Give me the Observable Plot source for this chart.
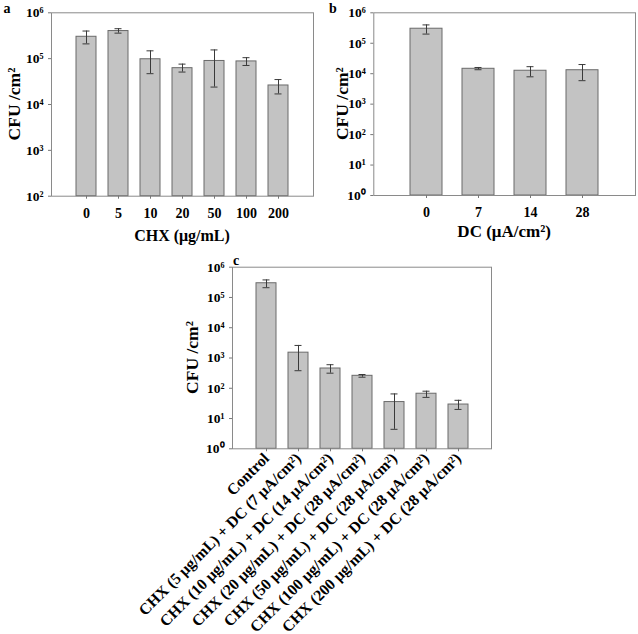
<!DOCTYPE html>
<html><head><meta charset="utf-8">
<script src="https://cdn.jsdelivr.net/npm/d3@7"></script>
<script src="https://cdn.jsdelivr.net/npm/@observablehq/plot@0.6"></script>
<style>
body{margin:0;background:#fff;}
#wrap{position:relative;width:638px;height:634px;font-family:"Liberation Serif","Times New Roman",serif;}
#wrap svg{position:absolute;overflow:visible;}
</style></head><body><div id="wrap"></div>
<script>
// Panel a: CHX
const chxDoses = ["0","5","10","20","50","100","200"];
const chxCFU  = [3.0e5, 4.0e5, 9.7e4, 6.2e4, 8.9e4, 8.7e4, 2.6e4];
const chxLow  = [2.1e5, 3.6e5, 4.7e4, 5.1e4, 2.4e4, 7.1e4, 1.7e4];
const chxHigh = [4.0e5, 4.5e5, 1.48e5, 7.6e4, 1.55e5, 1.05e5, 3.5e4];
// Panel b: DC
const dcDoses = ["0","7","14","28"];
const dcCFU  = [3.0e5, 1.45e4, 1.25e4, 1.3e4];
const dcLow  = [2.0e5, 1.35e4, 7.9e3, 5.9e3];
const dcHigh = [4.0e5, 1.6e4, 1.7e4, 2.0e4];
// Panel c: combination
const comboLabels = [
  "Control",
  "CHX (5 μg/mL) + DC (7 μA/cm²)",
  "CHX (10 μg/mL) + DC (14 μA/cm²)",
  "CHX (20 μg/mL) + DC (28 μA/cm²)",
  "CHX (50 μg/mL) + DC (28 μA/cm²)",
  "CHX (100 μg/mL) + DC (28 μA/cm²)",
  "CHX (200 μg/mL) + DC (28 μA/cm²)"
];
const comboCFU  = [2.95e5, 1.5e3, 450, 258, 35, 66, 29];
const comboLow  = [2.1e5, 380, 315, 232, 4.4, 50, 20];
const comboHigh = [3.8e5, 2.6e3, 600, 285, 65, 80, 40];
// tick values
const yTicksA = [1e2, 1e3, 1e4, 1e5, 1e6];
const yTicksBC = [1e0, 1e1, 1e2, 1e3, 1e4, 1e5, 1e6];
const yTitle = "CFU /cm²";

const SUP = {"0":"⁰","1":"¹","2":"²","3":"³","4":"⁴","5":"⁵","6":"⁶","7":"⁷","8":"⁸","9":"⁹"};
const fmtPow = d => "10" + String(Math.round(Math.log10(d))).split("").map(c => SUP[c]).join("");

const wrap = document.getElementById("wrap");

function panel(o) {
  const rows = o.cats.map((c, i) => ({cat: c, v: o.vals[i], lo: o.lo[i], hi: o.hi[i]}));
  const base = o.ticks[0];
  const svg = Plot.plot({
    width: o.width, height: o.height,
    marginLeft: o.m[0], marginRight: o.m[1], marginTop: o.m[2], marginBottom: o.m[3],
    style: {fontFamily: '"Liberation Serif","Times New Roman",serif', background: "transparent", color: "#000"},
    x: {type: "band", domain: o.cats, paddingInner: o.pi, paddingOuter: o.po, label: null},
    y: {type: "log", domain: [o.ticks[0], o.ticks[o.ticks.length - 1]], label: null},
    marks: [
      Plot.barY(rows, {x: "cat", y1: base, y2: "v", fill: "#c3c3c3", stroke: "#6a6a6a", strokeWidth: 1}),
      Plot.ruleX(rows, {x: "cat", y1: "lo", y2: "hi", stroke: "#3a3a3a", strokeWidth: 1}),
      Plot.tickY(rows, {x: "cat", y: "lo", stroke: "#3a3a3a", insetLeft: o.inset, insetRight: o.inset}),
      Plot.tickY(rows, {x: "cat", y: "hi", stroke: "#3a3a3a", insetLeft: o.inset, insetRight: o.inset}),
      Plot.frame({stroke: "#8a8a8a", strokeWidth: 1}),
      Plot.axisY({ticks: o.ticks, tickFormat: fmtPow, tickSize: 3, tickPadding: 5, stroke: "#777",
        fontSize: 13.5, fontWeight: "bold", label: null}),
      Plot.axisX({tickSize: 3, tickPadding: o.rotate ? 4 : 9, stroke: "#777", fontSize: o.xFont, fontWeight: "bold",
        tickRotate: o.rotate || 0, label: null})
    ]
  });
  svg.style.left = o.left + "px";
  svg.style.top = o.top + "px";
  const s = d3.select(svg);
  const cy = (o.m[2] + (o.height - o.m[3])) / 2;
  s.append("text").attr("transform", `translate(${o.yTitleX},${cy}) rotate(-90)`)
    .attr("text-anchor", "middle").attr("dominant-baseline", "central")
    .attr("font-size", 17.5).attr("font-weight", "bold").attr("fill", "#000").text(yTitle);
  if (o.xTitle) {
    const cx = (o.m[0] + (o.width - o.m[1])) / 2;
    s.append("text").attr("x", cx).attr("y", o.xTitleY).attr("text-anchor", "middle")
      .attr("font-size", o.xTitleSize).attr("font-weight", "bold").attr("fill", "#000").text(o.xTitle);
  }
  s.append("text").attr("x", o.letter[1]).attr("y", o.letter[2])
    .attr("font-size", 14).attr("font-weight", "bold").attr("fill", "#000").text(o.letter[0]);
  wrap.appendChild(svg);
}

panel({cats: chxDoses, vals: chxCFU, lo: chxLow, hi: chxHigh, ticks: yTicksA,
  left: 0, top: 0, width: 320, height: 250, m: [51, 7, 12.3, 54.3], pi: 0.38, po: 0.72, inset: 6.5,
  xFont: 14, xTitle: "CHX (μg/mL)", xTitleY: 241, xTitleSize: 16, yTitleX: 14, letter: ["a", 7, 13]});

panel({cats: dcDoses, vals: dcCFU, lo: dcLow, hi: dcHigh, ticks: yTicksBC,
  left: 320, top: 0, width: 318, height: 250, m: [53.3, 3, 12.3, 55], pi: 0.39, po: 0.695, inset: 12.5,
  xFont: 14, xTitle: "DC (μA/cm²)", xTitleY: 237, xTitleSize: 17, yTitleX: 21.5, letter: ["b", 13, 13]});

panel({cats: comboLabels, vals: comboCFU, lo: comboLow, hi: comboHigh, ticks: yTicksBC,
  left: 0, top: 250, width: 638, height: 384, m: [232, 147, 16.7, 185.7], pi: 0.38, po: 0.685, inset: 6.5,
  xFont: 15.8, rotate: -45, xTitle: null, yTitleX: 192, letter: ["c", 236, 15]});
</script></body></html>
